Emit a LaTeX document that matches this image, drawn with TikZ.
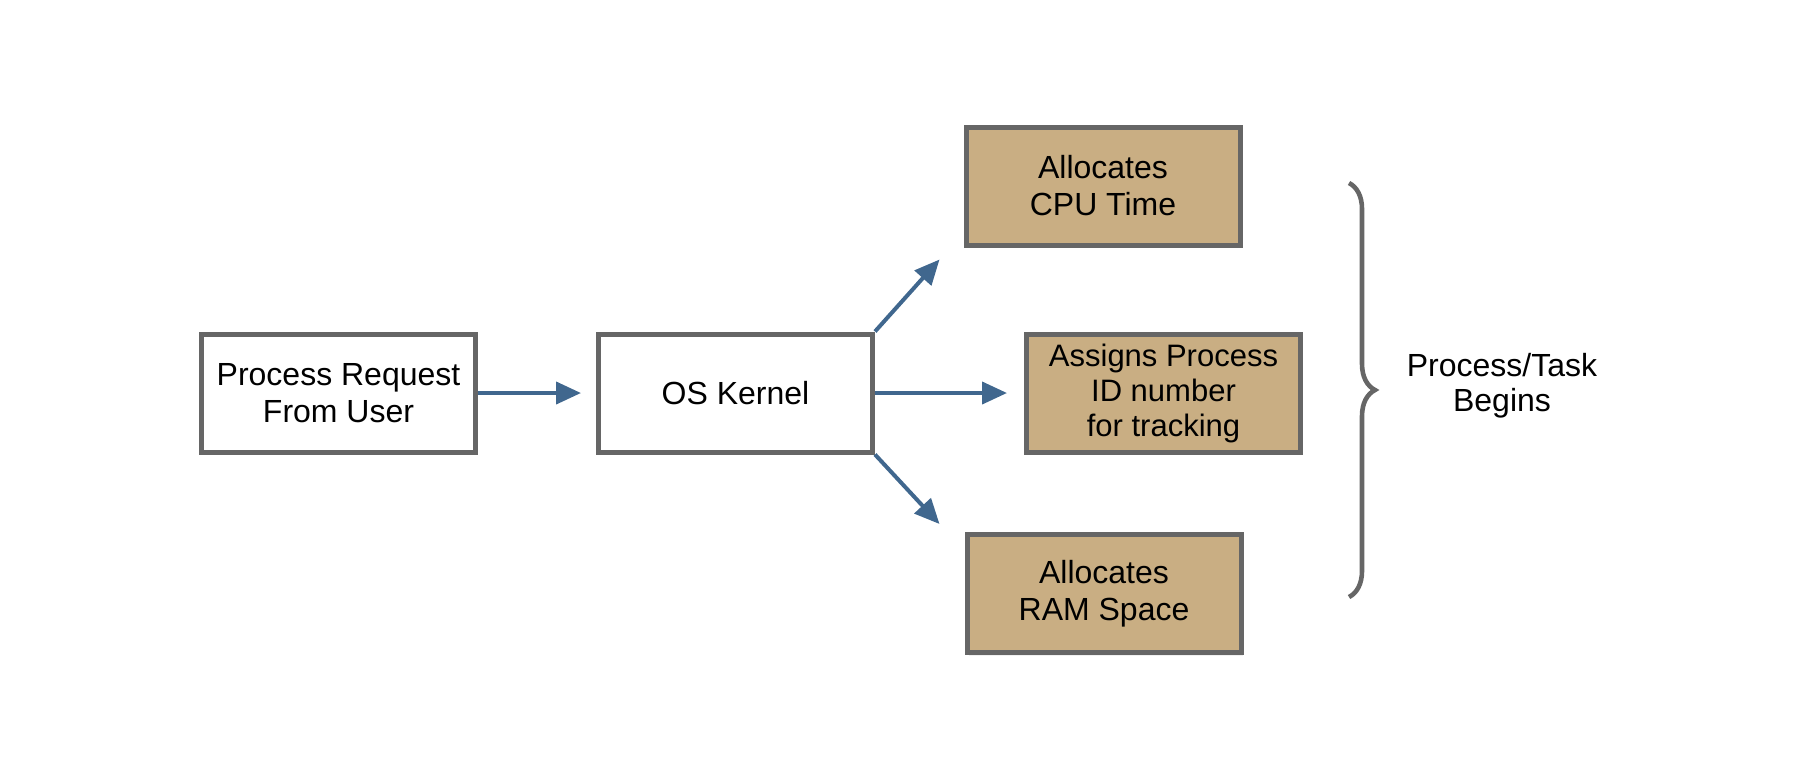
\documentclass[tikz,border=0pt]{standalone}
\usepackage{fontspec}
\setmainfont{Liberation Sans}
\usepackage{tikz}
\usetikzlibrary{arrows.meta,positioning,calc,shadows,decorations.pathreplacing}
\definecolor{edgegray}{RGB}{102,102,102}
\definecolor{tan}{RGB}{201,174,131}
\definecolor{arrowblue}{RGB}{64,103,142}

\begin{document}
\begin{tikzpicture}[x=0.5pt,y=-0.5pt,on grid,>={Triangle[length=12.5pt,width=11pt]},
        box/.style={draw=edgegray,line width=2.5pt,fill=white,align=center,
            minimum width=137pt,minimum height=59pt,inner sep=0pt,
            font=\fontsize{16}{18.5}\selectfont,
            drop shadow={shadow xshift=1pt,shadow yshift=-1.5pt,opacity=0.12}},
        job/.style={box,fill=tan},
        link/.style={color=arrowblue,line width=2pt,->}]
        \useasboundingbox (0,0) rectangle (1814,762);

        \node[box] (request) at (338.5,393) {Process Request\\From User};
        \node[box] (kernel) [right=198.5pt of request] {OS Kernel};
        \node[job,font=\fontsize{15.5}{17.5}\selectfont] (pid) [right=214pt of kernel] {Assigns Process\\ID number\\for tracking};
        \node[job] (cpu) [above right=103.5pt and 183.75pt of kernel] {Allocates\\CPU Time};
        \node[job] (ram) [below right=100.25pt and 184.25pt of kernel] {Allocates\\RAM Space};
        \node[align=center,font=\fontsize{16}{17.5}\selectfont] (begins) at (1502,386) {Process/Task\\Begins};

        \coordinate (cpuin) at ($(cpu.south west)+(-12pt,-6pt)$);
        \coordinate (ramin) at ($(ram.north west)+(-12.5pt,4pt)$);

        \path[link]
             (request.east) edge [shorten >=7.5pt] (kernel.west)
             (kernel.east) edge [shorten >=8.5pt] (pid.west)
             (kernel.north east) edge (cpuin)
             (kernel.south east) edge (ramin)
        ;
        \draw[edgegray,line width=2.3pt,decorate,decoration={brace,amplitude=13pt}]
             (1349,183) -- (1349,597);
    \end{tikzpicture}
\end{document}
